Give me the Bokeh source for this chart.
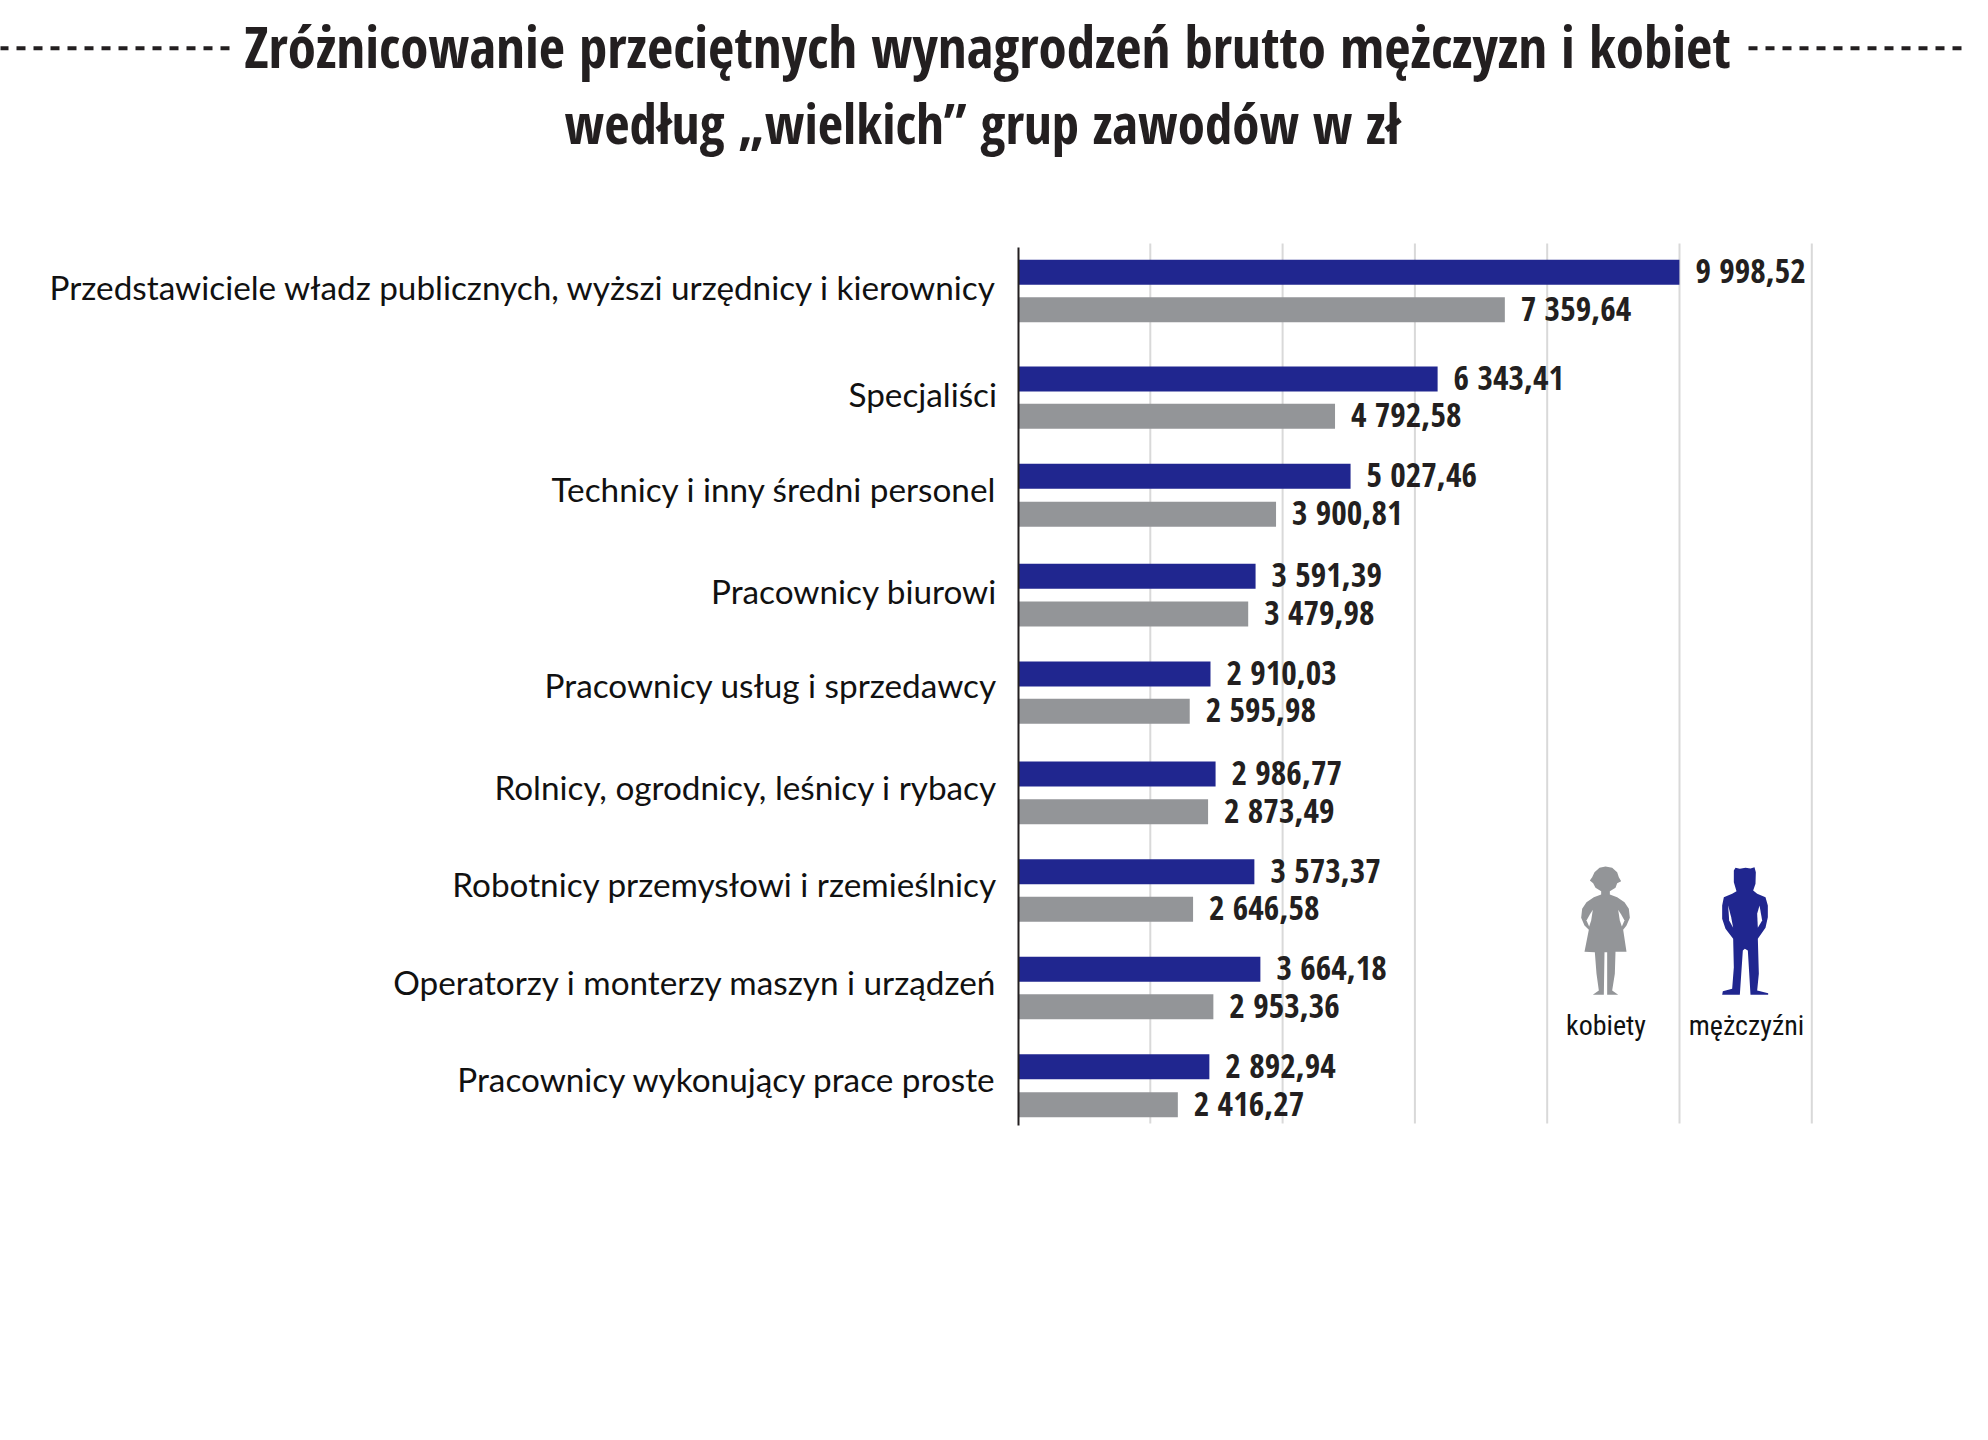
from bokeh.plotting import figure
from bokeh.models import Range1d, LinearAxis, FixedTicker, ColumnDataSource
from bokeh.core.properties import value
from bokeh.embed import file_html
from bokeh.resources import INLINE

title_lines = ["Zróżnicowanie przeciętnych wynagrodzeń brutto mężczyzn i kobiet",
               "według „wielkich” grup zawodów w zł"]
categories = ["Przedstawiciele władz publicznych, wyższi urzędnicy i kierownicy",
              "Specjaliści", "Technicy i inny średni personel", "Pracownicy biurowi",
              "Pracownicy usług i sprzedawcy", "Rolnicy, ogrodnicy, leśnicy i rybacy",
              "Robotnicy przemysłowi i rzemieślnicy", "Operatorzy i monterzy maszyn i urządzeń",
              "Pracownicy wykonujący prace proste"]
men = [9998.52, 6343.41, 5027.46, 3591.39, 2910.03, 2986.77, 3573.37, 3664.18, 2892.94]
women = [7359.64, 4792.58, 3900.81, 3479.98, 2595.98, 2873.49, 2646.58, 2953.36, 2416.27]
legend_names = ["kobiety", "mężczyźni"]

# layout (page pixel rows; the source layout is not evenly spaced)
men_row = [271.8, 378.5, 475.8, 575.8, 673.5, 773.5, 871.2, 968.8, 1066.2]
women_row = [309.2, 415.8, 513.8, 613.5, 710.8, 811.2, 908.8, 1006.2, 1104.2]
label_row = [286.5, 393.5, 488.5, 590.5, 684.5, 786.5, 883.5, 981.5, 1078.5]
grid_ticks = [2000, 4000, 6000, 8000, 10000, 12000]

BLUE, GRAY, INK = "#20268f", "#939598", "#231f20"
COND = value("Open Sans Condensed")
W, H = 1972, 1424
X0, PX_PER_UNIT = 1017.5, 793.8 / 12000


def fmt(v):
    return f"{v:,.2f}".replace(",", " ").replace(".", ",")


p = figure(width=W, height=H, output_backend="svg", toolbar_location=None,
           x_range=Range1d(-X0 / PX_PER_UNIT, (W - X0) / PX_PER_UNIT),
           y_range=Range1d(H, 0), x_axis_location=None, y_axis_location=None,
           min_border=0, outline_line_color=None)
p.xgrid.visible = False
p.ygrid.visible = False
p.extra_x_ranges["px"] = Range1d(0, W)

p.segment(x0=grid_ticks, x1=grid_ticks, y0=243, y1=1123, line_color="#d9d9d9", line_width=2)

axis = LinearAxis(fixed_location=0, ticker=FixedTicker(ticks=label_row),
                  major_label_overrides={t: c for t, c in zip(label_row, categories)},
                  bounds=(247, 1125), axis_line_color="#231f20", axis_line_width=2,
                  major_tick_line_color=None, minor_tick_line_color=None,
                  major_label_standoff=15, major_label_text_font="Lato",
                  major_label_text_font_size="33.3px", major_label_text_color="#111111")
p.add_layout(axis, "left")

for vals, rows, col in ((men, men_row, BLUE), (women, women_row, GRAY)):
    src = ColumnDataSource(dict(y=rows, right=vals, label=[fmt(v) for v in vals]))
    p.hbar(y="y", left=0, right="right", height=25, source=src, fill_color=col, line_color=None)
    p.text(x="right", y="y", text="label", source=src, x_offset=16, y_offset=-2, text_align="left",
           text_baseline="middle", text_font=COND,
           text_font_style="bold", text_font_size="33.5px", text_color=INK)

for line, cx, base, size in zip(title_lines, (987, 982), (45, 122), ("57px", "55px")):
    p.text(x=[cx], y=[base], text=[line], x_range_name="px", text_align="center",
           text_baseline="alphabetic", text_font=COND,
           text_font_style="bold", text_font_size=size, text_color=INK)

for xs in ((-1, 230), (1748, 1962)):
    p.line(x=list(xs), y=[47.7, 47.7], x_range_name="px", line_color=INK, line_width=4, line_dash="9 8")

for name, cx in zip(legend_names, (1605.5, 1746)):
    p.text(x=[cx], y=[1024.5], text=[name], x_range_name="px", text_align="center",
           text_baseline="alphabetic", text_font=value("Roboto Condensed"),
           text_font_size="28px", text_color="#111111")

# pictograms (outline traced on a 3x crop whose corner is at page pixel 1500, 840)
woman_icon = [(315,78),(335,82),(350,95),(355,110),(362,122),(350,128),(345,142),(328,152),(328,162),(350,170),
              (372,185),(385,205),(388,232),(378,255),(368,268),(378,334),(345,334),(343,400),(335,450),(353,463),
              (320,463),(320,335),(312,335),(310,463),(277,463),(295,450),(288,400),(283,335),(252,334),(265,268),
              (252,255),(242,232),(245,205),(258,185),(280,170),(302,162),(302,152),(285,142),(278,128),(268,120),
              (275,110),(282,95),(297,82)]
woman_gaps = [[(353,208),(362,222),(372,240),(364,258),(358,240)], [(277,208),(268,222),(258,240),(266,258),(272,240)]]
man_icon = [(705,82),(718,85),(735,82),(750,84),(762,80),(766,95),(765,130),(758,150),(770,160),(795,170),
            (802,195),(802,230),(795,262),(775,290),(772,295),(775,400),(770,450),(803,458),(803,463),(750,463),
            (742,330),(733,325),(727,330),(718,463),(665,463),(667,452),(695,445),(700,380),(698,295),(675,265),
            (665,235),(665,195),(670,170),(695,160),(708,152),(700,125),(700,90)]
man_gaps = [[(777,195),(785,240),(772,262),(770,220)], [(683,195),(692,230),(698,262),(686,240)]]


def draw(outline, col):
    p.patch(x=[1500 + a / 3 for a, _ in outline], y=[840 + b / 3 for _, b in outline],
            x_range_name="px", fill_color=col, line_color=None)


draw(woman_icon, GRAY)
draw(man_icon, BLUE)
for g in woman_gaps + man_gaps:
    draw(g, "white")

open("out.html", "w").write(file_html(p, INLINE))
